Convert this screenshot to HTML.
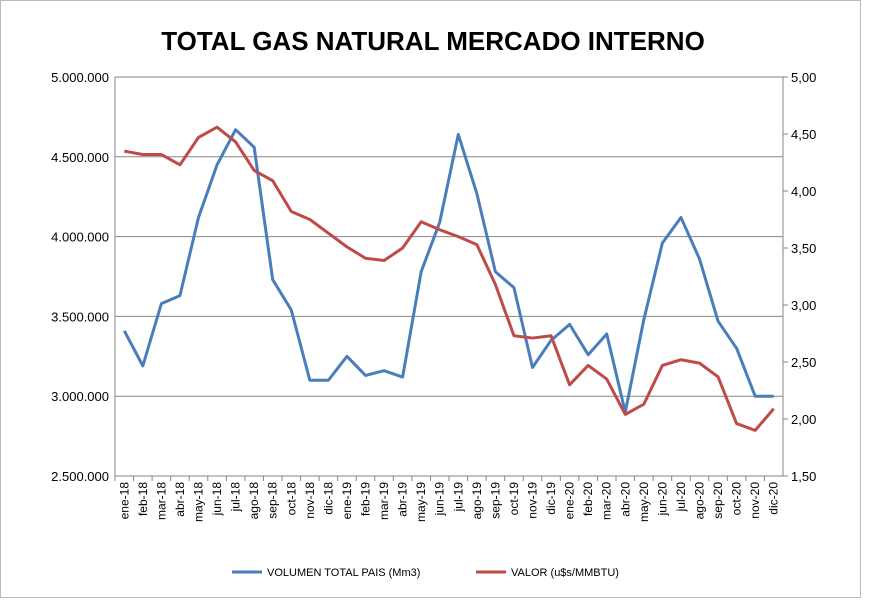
<!DOCTYPE html>
<html><head><meta charset="utf-8"><style>
body{margin:0;background:#fff;}
svg{display:block;font-family:"Liberation Sans",sans-serif;}
</style></head><body>
<svg id="chart" width="871" height="607" xmlns="http://www.w3.org/2000/svg">
<rect x="0.5" y="0.5" width="860" height="597" fill="#fff" stroke="#bbb"/>
<text x="433" y="50" text-anchor="middle" font-size="26" font-weight="bold" fill="#000">TOTAL GAS NATURAL MERCADO INTERNO</text>
<g id="grid"></g><g id="axes"></g><g id="series"></g>
<g>
<line x1="232" y1="572" x2="262" y2="572" stroke="#4A7EBB" stroke-width="3"/>
<text x="267" y="576" font-size="11" fill="#000">VOLUMEN TOTAL PAIS (Mm3)</text>
<line x1="476" y1="572" x2="506" y2="572" stroke="#BE4B48" stroke-width="3"/>
<text x="511" y="576" font-size="11" fill="#000">VALOR (u$s/MMBTU)</text>
</g>
</svg>
<script>
const categories=["ene-18","feb-18","mar-18","abr-18","may-18","jun-18","jul-18","ago-18","sep-18","oct-18","nov-18","dic-18","ene-19","feb-19","mar-19","abr-19","may-19","jun-19","jul-19","ago-19","sep-19","oct-19","nov-19","dic-19","ene-20","feb-20","mar-20","abr-20","may-20","jun-20","jul-20","ago-20","sep-20","oct-20","nov-20","dic-20"];
const volumen=[3410000,3190000,3580000,3630000,4120000,4450000,4670000,4560000,3730000,3540000,3100000,3100000,3250000,3130000,3160000,3120000,3780000,4090000,4640000,4270000,3780000,3680000,3180000,3350000,3450000,3260000,3390000,2900000,3480000,3960000,4120000,3860000,3470000,3300000,3000000,3000000];
const valor=[4.35,4.32,4.32,4.23,4.47,4.56,4.43,4.18,4.09,3.82,3.75,3.63,3.51,3.41,3.39,3.50,3.73,3.66,3.60,3.53,3.18,2.73,2.71,2.73,2.30,2.47,2.35,2.04,2.13,2.47,2.52,2.49,2.37,1.96,1.90,2.09];
const leftTicks=[2500000,3000000,3500000,4000000,4500000,5000000];
const leftLabels=["2.500.000","3.000.000","3.500.000","4.000.000","4.500.000","5.000.000"];
const rightTicks=[1.5,2,2.5,3,3.5,4,4.5,5];
const rightLabels=["1,50","2,00","2,50","3,00","3,50","4,00","4,50","5,00"];
const X0=115,X1=783,Y0=476,Y1=77;
const NS="http://www.w3.org/2000/svg";
const band=(X1-X0)/categories.length;
const xs=i=>X0+band*(i+0.5);
const yL=v=>Y0-(v-2500000)/2500000*(Y0-Y1);
const yR=v=>Y0-(v-1.5)/3.5*(Y0-Y1);
function mk(t,a,p){const e=document.createElementNS(NS,t);for(const k in a)e.setAttribute(k,a[k]);p.appendChild(e);return e;}
const grid=document.getElementById('grid'),axes=document.getElementById('axes'),ser=document.getElementById('series');
leftTicks.forEach((v,i)=>{
 const y=yL(v);
 const l=mk('line',{x1:X0,x2:X1,y1:y,y2:y,stroke:'#868686','stroke-width':1},grid);
 
 
 const t=mk('text',{x:X0-6,y:y+5,'text-anchor':'end','font-size':13,fill:'#000'},axes);
 t.textContent=leftLabels[i];
 
 
});
rightTicks.forEach((v,i)=>{
 const y=yR(v);
 const t=mk('text',{x:X1+8,y:y+5,'font-size':13,fill:'#000'},axes);
 t.textContent=rightLabels[i];
 
 
 const k=mk('line',{x1:X1,x2:X1+5,y1:y,y2:y,stroke:'#868686'},axes);
 
 
});
[[X0,Y1,X0,Y0],[X1,Y1,X1,Y0],[X0,Y0,X1,Y0]].forEach(c=>{
 const l=mk('line',{x1:c[0],y1:c[1],x2:c[2],y2:c[3],stroke:'#868686'},axes);
 
 
});
categories.forEach((c,i)=>{
 const x=xs(i);
 const k=mk('line',{x1:X0+band*i,x2:X0+band*i,y1:Y0,y2:Y0+5,stroke:'#868686'},axes);
 
 
 const t=mk('text',{x:0,y:0,'text-anchor':'end','font-size':12,fill:'#000',transform:`translate(${x+4},${Y0+6}) rotate(-90)`},axes);
 t.textContent=c;
 
 
});
const p1=mk('polyline',{points:volumen.map((v,i)=>xs(i)+','+yL(v)).join(' '),fill:'none',stroke:'#4A7EBB','stroke-width':3,'stroke-linejoin':'round'},ser);


const p2=mk('polyline',{points:valor.map((v,i)=>xs(i)+','+yR(v)).join(' '),fill:'none',stroke:'#BE4B48','stroke-width':3,'stroke-linejoin':'round'},ser);


</script>
</body></html>
